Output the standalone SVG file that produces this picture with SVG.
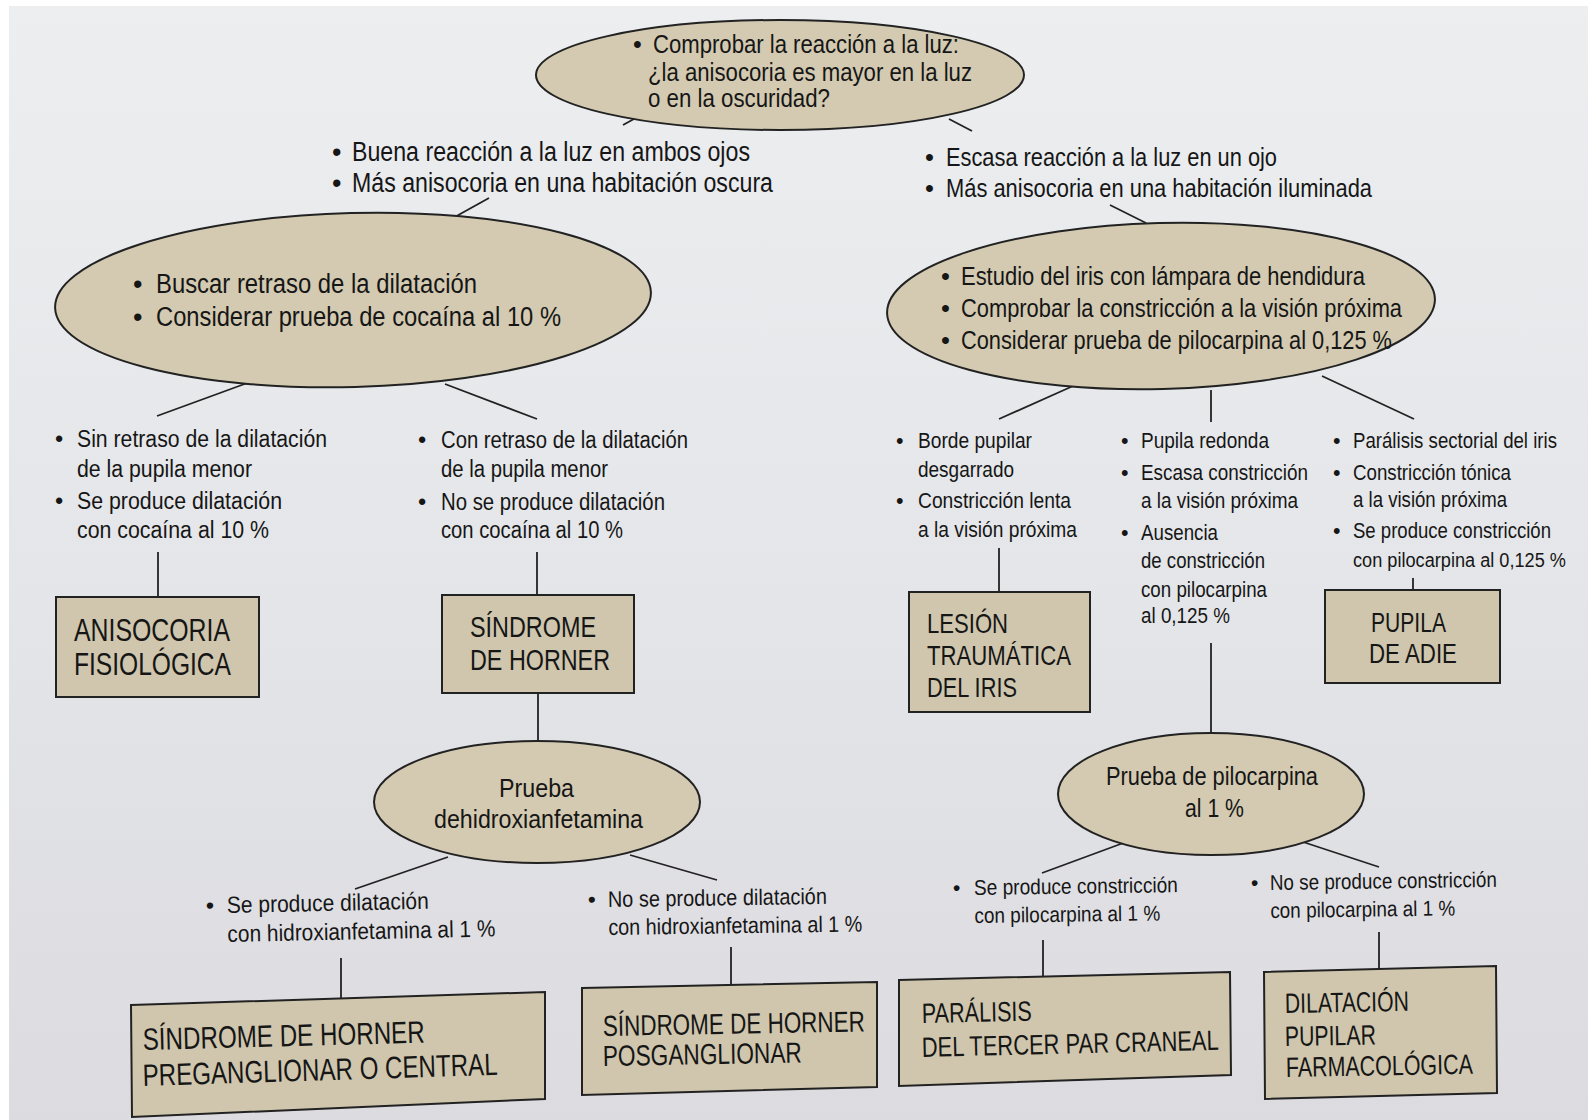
<svg xmlns="http://www.w3.org/2000/svg" width="1588" height="1120" viewBox="0 0 1588 1120">
<defs>
<linearGradient id="paper" x1="0" y1="0" x2="0" y2="1">
<stop offset="0" stop-color="#eceef0"/>
<stop offset="0.5" stop-color="#e4e6e9"/>
<stop offset="1" stop-color="#dcdbe0"/>
</linearGradient>
<style>
text { font-family: "Liberation Sans Narrow", "Liberation Sans", Arial, sans-serif; fill: #161616; }
.node { fill: #cfc6ad; stroke: #222; stroke-width: 2; }
.ell { fill: #d3cab1; stroke: #222; stroke-width: 2; }
#connectors line { stroke: #222; stroke-width: 1.8; }
.f25 { font-size: 25px; }
.f27 { font-size: 27px; }
.f255 { font-size: 25.5px; }
.f235 { font-size: 23.5px; }
.f225 { font-size: 22.5px; }
.f215 { font-size: 21.5px; }
.f195 { font-size: 19.5px; }
.f26 { font-size: 26px; }
.b31 { font-size: 31px; }
.b295 { font-size: 29.5px; }
.b28 { font-size: 28px; }
.b275 { font-size: 27.5px; }
.b29 { font-size: 29px; }
</style>
</defs>
<rect x="0" y="0" width="1588" height="1120" fill="#ffffff"/>
<rect x="9" y="6" width="1579" height="1114" fill="url(#paper)"/>

<g id="connectors">
<line x1="623" y1="125" x2="643" y2="114"/>
<line x1="949" y1="119" x2="972" y2="131"/>
<line x1="489" y1="198" x2="453" y2="218"/>
<line x1="1110" y1="205" x2="1146" y2="223"/>
<line x1="250" y1="382" x2="157" y2="416"/>
<line x1="445" y1="384" x2="537" y2="419"/>
<line x1="1073" y1="386" x2="999" y2="419"/>
<line x1="1211" y1="390" x2="1211" y2="422"/>
<line x1="1322" y1="376" x2="1414" y2="419"/>
<line x1="158" y1="552" x2="158" y2="597"/>
<line x1="537" y1="552" x2="537" y2="595"/>
<line x1="999" y1="548" x2="999" y2="592"/>
<line x1="1413" y1="578" x2="1413" y2="590"/>
<line x1="1211" y1="643" x2="1211" y2="732"/>
<line x1="538" y1="693" x2="538" y2="742"/>
<line x1="448" y1="857" x2="355" y2="889"/>
<line x1="630" y1="855" x2="717" y2="880"/>
<line x1="1126" y1="842" x2="1042" y2="873"/>
<line x1="1294" y1="839" x2="1379" y2="867"/>
<line x1="341" y1="958" x2="341" y2="998"/>
<line x1="731" y1="947" x2="731" y2="985"/>
<line x1="1043" y1="940" x2="1043" y2="976"/>
<line x1="1379" y1="932" x2="1379" y2="968"/>
</g>

<g id="n-top">
<ellipse class="ell" cx="780" cy="75" rx="244" ry="55"/>
<text class="f25" x="633" y="53">•</text>
<text class="f25" x="653" y="53" textLength="306" lengthAdjust="spacingAndGlyphs">Comprobar la reacción a la luz:</text>
<text class="f25" x="648" y="81" textLength="324" lengthAdjust="spacingAndGlyphs">¿la anisocoria es mayor en la luz</text>
<text class="f25" x="648" y="107" textLength="182" lengthAdjust="spacingAndGlyphs">o en la oscuridad?</text>
</g>

<g id="t-dark">
<text class="f27" x="332" y="161">•</text>
<text class="f27" x="352" y="161" textLength="398" lengthAdjust="spacingAndGlyphs">Buena reacción a la luz en ambos ojos</text>
<text class="f27" x="332" y="192">•</text>
<text class="f27" x="352" y="192" textLength="421" lengthAdjust="spacingAndGlyphs">Más anisocoria en una habitación oscura</text>
</g>

<g id="t-light">
<text class="f255" x="925" y="166">•</text>
<text class="f255" x="946" y="166" textLength="331" lengthAdjust="spacingAndGlyphs">Escasa reacción a la luz en un ojo</text>
<text class="f255" x="925" y="197">•</text>
<text class="f255" x="946" y="197" textLength="426" lengthAdjust="spacingAndGlyphs">Más anisocoria en una habitación iluminada</text>
</g>

<g id="n-left">
<ellipse class="ell" cx="353" cy="300" rx="298" ry="87" transform="rotate(-1.5 353 300)"/>
<text class="f27" x="133" y="293">•</text>
<text class="f27" x="156" y="293" textLength="321" lengthAdjust="spacingAndGlyphs">Buscar retraso de la dilatación</text>
<text class="f27" x="133" y="326">•</text>
<text class="f27" x="156" y="326" textLength="405" lengthAdjust="spacingAndGlyphs">Considerar prueba de cocaína al 10 %</text>
</g>

<g id="n-right">
<ellipse class="ell" cx="1161" cy="306" rx="274" ry="83" transform="rotate(-1.5 1161 306)"/>
<text class="f255" x="941" y="285">•</text>
<text class="f255" x="961" y="285" textLength="404" lengthAdjust="spacingAndGlyphs">Estudio del iris con lámpara de hendidura</text>
<text class="f255" x="941" y="317">•</text>
<text class="f255" x="961" y="317" textLength="441" lengthAdjust="spacingAndGlyphs">Comprobar la constricción a la visión próxima</text>
<text class="f255" x="941" y="349">•</text>
<text class="f255" x="961" y="349" textLength="431" lengthAdjust="spacingAndGlyphs">Considerar prueba de pilocarpina al 0,125 %</text>
</g>

<g id="t-col1">
<text class="f235" x="55" y="447">•</text>
<text class="f235" x="77" y="447" textLength="250" lengthAdjust="spacingAndGlyphs">Sin retraso de la dilatación</text>
<text class="f235" x="77" y="477" textLength="175" lengthAdjust="spacingAndGlyphs">de la pupila menor</text>
<text class="f235" x="55" y="509">•</text>
<text class="f235" x="77" y="509" textLength="205" lengthAdjust="spacingAndGlyphs">Se produce dilatación</text>
<text class="f235" x="77" y="538" textLength="192" lengthAdjust="spacingAndGlyphs">con cocaína al 10 %</text>
</g>

<g id="t-col2">
<text class="f235" x="418" y="448">•</text>
<text class="f235" x="441" y="448" textLength="247" lengthAdjust="spacingAndGlyphs">Con retraso de la dilatación</text>
<text class="f235" x="441" y="477" textLength="167" lengthAdjust="spacingAndGlyphs">de la pupila menor</text>
<text class="f235" x="418" y="510">•</text>
<text class="f235" x="441" y="510" textLength="224" lengthAdjust="spacingAndGlyphs">No se produce dilatación</text>
<text class="f235" x="441" y="538" textLength="182" lengthAdjust="spacingAndGlyphs">con cocaína al 10 %</text>
</g>

<g id="t-col3">
<text class="f215" x="896" y="448">•</text>
<text class="f215" x="918" y="448" textLength="114" lengthAdjust="spacingAndGlyphs">Borde pupilar</text>
<text class="f215" x="918" y="477" textLength="96" lengthAdjust="spacingAndGlyphs">desgarrado</text>
<text class="f215" x="896" y="508">•</text>
<text class="f215" x="918" y="508" textLength="153" lengthAdjust="spacingAndGlyphs">Constricción lenta</text>
<text class="f215" x="918" y="537" textLength="159" lengthAdjust="spacingAndGlyphs">a la visión próxima</text>
</g>

<g id="t-col4">
<text class="f215" x="1121" y="448">•</text>
<text class="f215" x="1141" y="448" textLength="128" lengthAdjust="spacingAndGlyphs">Pupila redonda</text>
<text class="f215" x="1121" y="480">•</text>
<text class="f215" x="1141" y="480" textLength="167" lengthAdjust="spacingAndGlyphs">Escasa constricción</text>
<text class="f215" x="1141" y="508" textLength="157" lengthAdjust="spacingAndGlyphs">a la visión próxima</text>
<text class="f215" x="1121" y="540">•</text>
<text class="f215" x="1141" y="540" textLength="77" lengthAdjust="spacingAndGlyphs">Ausencia</text>
<text class="f215" x="1141" y="568" textLength="124" lengthAdjust="spacingAndGlyphs">de constricción</text>
<text class="f215" x="1141" y="597" textLength="126" lengthAdjust="spacingAndGlyphs">con pilocarpina</text>
<text class="f215" x="1141" y="623" textLength="89" lengthAdjust="spacingAndGlyphs">al 0,125 %</text>
</g>

<g id="t-col5">
<text class="f215" x="1333" y="448">•</text>
<text class="f215" x="1353" y="448" textLength="204" lengthAdjust="spacingAndGlyphs">Parálisis sectorial del iris</text>
<text class="f215" x="1333" y="480">•</text>
<text class="f215" x="1353" y="480" textLength="158" lengthAdjust="spacingAndGlyphs">Constricción tónica</text>
<text class="f215" x="1353" y="507" textLength="154" lengthAdjust="spacingAndGlyphs">a la visión próxima</text>
<text class="f215" x="1333" y="538">•</text>
<text class="f215" x="1353" y="538" textLength="198" lengthAdjust="spacingAndGlyphs">Se produce constricción</text>
<text class="f195" x="1353" y="567" textLength="213" lengthAdjust="spacingAndGlyphs">con pilocarpina al 0,125 %</text>
</g>

<g id="n-anisocoria">
<rect class="node" x="56" y="597" width="203" height="100"/>
<text class="b31" x="74" y="641" textLength="156" lengthAdjust="spacingAndGlyphs">ANISOCORIA</text>
<text class="b31" x="74" y="675" textLength="157" lengthAdjust="spacingAndGlyphs">FISIOLÓGICA</text>
</g>

<g id="n-horner">
<rect class="node" x="442" y="595" width="192" height="98"/>
<text class="b295" x="470" y="637" textLength="126" lengthAdjust="spacingAndGlyphs">SÍNDROME</text>
<text class="b295" x="470" y="670" textLength="140" lengthAdjust="spacingAndGlyphs">DE HORNER</text>
</g>

<g id="n-lesion">
<rect class="node" x="909" y="592" width="181" height="120"/>
<text class="b28" x="927" y="633" textLength="81" lengthAdjust="spacingAndGlyphs">LESIÓN</text>
<text class="b28" x="927" y="665" textLength="144" lengthAdjust="spacingAndGlyphs">TRAUMÁTICA</text>
<text class="b28" x="927" y="697" textLength="90" lengthAdjust="spacingAndGlyphs">DEL IRIS</text>
</g>

<g id="n-adie">
<rect class="node" x="1325" y="590" width="175" height="93"/>
<text class="b275" x="1371" y="632" textLength="75" lengthAdjust="spacingAndGlyphs">PUPILA</text>
<text class="b275" x="1369" y="663" textLength="88" lengthAdjust="spacingAndGlyphs">DE ADIE</text>
</g>

<g id="n-hidroxi">
<ellipse class="ell" cx="537" cy="802" rx="163" ry="61"/>
<text class="f26" x="499" y="797" textLength="75" lengthAdjust="spacingAndGlyphs">Prueba</text>
<text class="f26" x="434" y="828" textLength="209" lengthAdjust="spacingAndGlyphs">dehidroxianfetamina</text>
</g>

<g id="n-pilo">
<ellipse class="ell" cx="1211" cy="794" rx="153" ry="61"/>
<text class="f25" x="1106" y="785" textLength="212" lengthAdjust="spacingAndGlyphs">Prueba de pilocarpina</text>
<text class="f25" x="1185" y="817" textLength="59" lengthAdjust="spacingAndGlyphs">al 1 %</text>
</g>

<g id="t-hidroxi-si" transform="rotate(-1.2 227 913)">
<text class="f235" x="206" y="913">•</text>
<text class="f235" x="227" y="913" textLength="202" lengthAdjust="spacingAndGlyphs">Se produce dilatación</text>
<text class="f235" x="227" y="942" textLength="268" lengthAdjust="spacingAndGlyphs">con hidroxianfetamina al 1 %</text>
</g>

<g id="t-hidroxi-no" transform="rotate(-0.8 608 907)">
<text class="f225" x="588" y="907">•</text>
<text class="f225" x="608" y="907" textLength="219" lengthAdjust="spacingAndGlyphs">No se produce dilatación</text>
<text class="f225" x="608" y="935" textLength="254" lengthAdjust="spacingAndGlyphs">con hidroxianfetamina al 1 %</text>
</g>

<g id="t-pilo-si" transform="rotate(-0.8 974 895)">
<text class="f215" x="953" y="895">•</text>
<text class="f215" x="974" y="895" textLength="204" lengthAdjust="spacingAndGlyphs">Se produce constricción</text>
<text class="f215" x="974" y="923" textLength="186" lengthAdjust="spacingAndGlyphs">con pilocarpina al 1 %</text>
</g>

<g id="t-pilo-no" transform="rotate(-0.8 1270 890)">
<text class="f215" x="1251" y="890">•</text>
<text class="f215" x="1270" y="890" textLength="227" lengthAdjust="spacingAndGlyphs">No se produce constricción</text>
<text class="f215" x="1270" y="918" textLength="185" lengthAdjust="spacingAndGlyphs">con pilocarpina al 1 %</text>
</g>

<g id="n-preganglionar">
<polygon class="node" points="131,1005 545,992 545,1099 132,1117"/>
<text class="b31" x="143" y="1050" textLength="282" lengthAdjust="spacingAndGlyphs" transform="rotate(-1.5 143 1050)">SÍNDROME DE HORNER</text>
<text class="b31" x="143" y="1086" textLength="355" lengthAdjust="spacingAndGlyphs" transform="rotate(-1.8 143 1086)">PREGANGLIONAR O CENTRAL</text>
</g>

<g id="n-posganglionar">
<polygon class="node" points="582,988 877,982 877,1087 582,1095"/>
<text class="b29" x="603" y="1036" textLength="262" lengthAdjust="spacingAndGlyphs" transform="rotate(-1 603 1036)">SÍNDROME DE HORNER</text>
<text class="b29" x="603" y="1066" textLength="199" lengthAdjust="spacingAndGlyphs" transform="rotate(-1 603 1066)">POSGANGLIONAR</text>
</g>

<g id="n-tercer">
<polygon class="node" points="899,980 1230,972 1231,1075 899,1086"/>
<text class="b28" x="922" y="1023" textLength="110" lengthAdjust="spacingAndGlyphs" transform="rotate(-1.2 922 1023)">PARÁLISIS</text>
<text class="b28" x="922" y="1057" textLength="297" lengthAdjust="spacingAndGlyphs" transform="rotate(-1.4 922 1057)">DEL TERCER PAR CRANEAL</text>
</g>

<g id="n-farmaco">
<polygon class="node" points="1264,972 1496,966 1497,1093 1265,1099"/>
<text class="b28" x="1285" y="1013" textLength="124" lengthAdjust="spacingAndGlyphs" transform="rotate(-1 1285 1013)">DILATACIÓN</text>
<text class="b28" x="1285" y="1046" textLength="91" lengthAdjust="spacingAndGlyphs" transform="rotate(-1 1285 1046)">PUPILAR</text>
<text class="b28" x="1286" y="1077" textLength="187" lengthAdjust="spacingAndGlyphs" transform="rotate(-1 1286 1077)">FARMACOLÓGICA</text>
</g>
</svg>
